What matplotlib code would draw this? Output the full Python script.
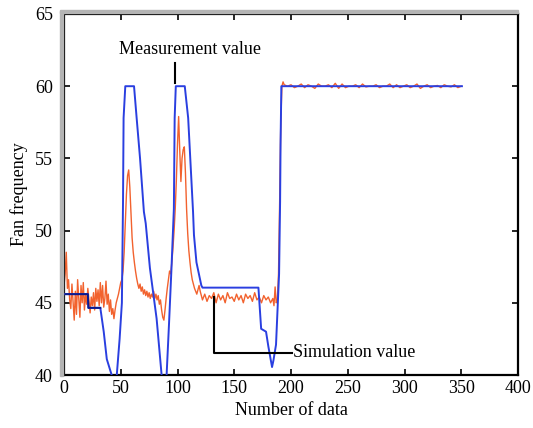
import matplotlib
matplotlib.use('Agg')
import matplotlib.pyplot as plt
from matplotlib.patches import Rectangle

meas_x = [0, 21, 21.5, 32, 35, 37.7, 42, 44, 45, 46.5, 49, 51, 52, 52.5, 54, 61.7,
          64, 67, 70.4, 72, 75.7, 81.6, 86, 88, 90.4, 92.5, 94.7, 96.8, 97.5, 98.5,
          106.4, 109.4, 113.7, 114.5, 116.7, 121, 122, 171.3, 173.7, 178, 180, 182.5,
          183.3, 184.5, 186.8, 189.5, 190.4, 190.8, 191.5, 350.6]
meas_y = [45.6, 45.6, 44.65, 44.65, 43.0, 41.1, 40.0, 39.2, 39.0, 40.0, 42.5, 45.0, 52.0, 57.8, 60.0, 60.0,
          57.8, 55.0, 51.3, 50.5, 47.4, 43.9, 40.0, 39.0, 40.0, 43.5, 47.4, 51.5, 57.8, 60.0,
          60.0, 57.8, 51.3, 49.7, 47.8, 46.2, 46.05, 46.05, 43.2, 43.0, 42.0, 40.9,
          40.55, 41.0, 42.1, 47.0, 52.0, 56.0, 60.0, 60.0]

# simulated curve (orange)
sim_x = list(range(0, 122)) + list(range(122, 185, 2)) + list(range(185, 195)) + list(range(197, 351, 3))
sim_y = [46.2, 47.0, 48.5, 46.0, 46.6, 45.2, 44.6, 46.3, 45.0, 43.8,
         45.8, 44.2, 46.6, 45.3, 44.0, 46.2, 45.0, 46.4, 44.5, 45.6,
         44.9, 46.0, 45.2, 44.3, 45.4, 44.8, 45.7, 44.5, 46.0, 45.1,
         45.9, 44.8, 46.4, 45.0, 46.2, 44.7, 45.3, 46.5, 44.9, 45.6,
         44.4, 45.2, 44.2, 44.6, 43.9, 44.5, 45.0, 45.3, 45.6, 46.0,
         46.4, 46.6, 47.2, 48.5, 50.5, 52.5, 53.8, 54.2, 53.0, 51.2,
         49.5, 48.5, 47.8, 47.2, 46.7, 46.3, 46.0, 46.3, 45.8, 46.1,
         45.6, 45.9, 45.5, 45.8, 45.4, 45.7, 45.3, 45.6, 45.4, 45.8,
         45.3, 45.6, 45.2, 45.5, 44.9, 45.2, 44.5, 44.0, 43.8, 44.5,
         45.3, 46.0, 46.6, 47.2, 47.0, 47.8, 48.8, 50.0, 51.5, 53.5,
         56.0, 57.9, 55.5, 53.4, 55.0, 55.6, 55.8, 54.0, 51.5, 49.8,
         48.6, 47.8, 47.1, 46.6, 46.3, 46.0, 45.8, 45.6, 45.9, 46.2,
         45.8, 45.5,
         45.2, 45.6, 45.1, 45.5, 45.3, 45.7, 45.0, 45.6, 45.2, 45.5,
         45.0, 45.7, 45.3, 45.4, 45.1, 45.6, 45.2, 45.5, 45.0, 45.6,
         45.3, 45.5, 45.1, 45.7, 45.2, 45.4, 45.0, 45.5, 45.2, 45.4,
         45.0, 45.3,
         44.8, 46.1, 45.0, 45.2, 47.0, 52.0, 57.5, 60.0, 60.3, 60.1,
         60.0, 60.1, 59.9, 60.0, 60.15, 59.9, 60.1, 60.0, 59.85, 60.15,
         60.0, 60.0, 60.1, 59.9, 60.2, 59.85, 60.15, 59.9, 60.0, 60.0,
         60.1, 59.9, 60.15, 59.95, 60.0, 60.0, 60.1, 59.9, 60.0, 60.0,
         60.15, 59.9, 60.1, 59.9, 60.0, 60.1, 59.9, 60.0, 60.15, 59.85,
         60.0, 60.1, 59.9, 60.0, 60.05, 59.9, 60.1, 60.0, 59.95, 60.1,
         59.9, 60.0]

x_ticks = [0, 50, 100, 150, 200, 250, 300, 350, 400]
y_ticks = [40, 45, 50, 55, 60, 65]

plt.rcParams['font.family'] = 'Liberation Serif'
plt.rcParams['font.size'] = 13

fig = plt.figure(figsize=(5.33, 4.28), dpi=100)
L, R, T, B = 64/533, 518/533, 1-14/428, 1-375/428
ax = fig.add_axes([L, B, R-L, T-B])

# grey shadow along left and top edge
fig.patches.append(Rectangle((L-4/533, B-1/428), 3/533, T-B+4/428, transform=fig.transFigure,
                             color='#b4b4b4', zorder=0))
fig.patches.append(Rectangle((L-4/533, T+1/428), R-L+4/533, 3/428, transform=fig.transFigure,
                             color='#b4b4b4', zorder=0))

ax.plot(sim_x, sim_y, color='#f2622e', lw=1.0, zorder=2)
ax.plot(meas_x, meas_y, color='#2a3fe0', lw=1.4, zorder=3)
ax.plot(meas_x[:4], meas_y[:4], color='#0c1a8c', lw=1.4, zorder=4)

# annotation pointers
ax.plot([98, 98], [60.2, 61.6], color='black', lw=1.5, zorder=5)
ax.text(111, 62.55, 'Measurement value', ha='center', va='center', fontsize=13)
ax.plot([132, 132, 201], [45.4, 41.55, 41.55], color='black', lw=1.5, zorder=5)
ax.text(201.5, 41.55, 'Simulation value', ha='left', va='center', fontsize=13)

ax.set_xlim(0, 400)
ax.set_ylim(40, 65)
ax.set_xticks(x_ticks)
ax.set_yticks(y_ticks)
ax.tick_params(direction='in', top=True, right=True, length=4, width=1.2, labelsize=13)
ax.tick_params(axis='y', pad=8)
for s in ax.spines.values():
    s.set_linewidth(1.6)
ax.set_xlabel('Number of data', fontsize=13)
ax.set_ylabel('Fan frequency', fontsize=13, labelpad=5)

fig.savefig('out.png', dpi=100)
